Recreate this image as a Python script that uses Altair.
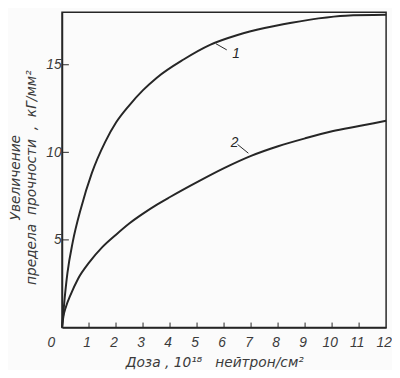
import altair as alt
import pandas as pd

# Curve 1 and curve 2: increase of ultimate strength vs neutron dose
dose1 = [0, 0.1, 0.2, 0.4, 0.7, 1.1, 1.6, 2.0, 2.5, 3.0, 3.5, 4.5, 5.5, 6.5, 7.5, 8.5, 9.5, 10.5, 12]
incr1 = [0, 1.7, 3.1, 4.9, 6.8, 8.8, 10.6, 11.7, 12.7, 13.55, 14.25, 15.3, 16.15, 16.7, 17.1, 17.4, 17.65, 17.8, 17.85]
dose2 = [0, 0.05, 0.15, 0.3, 0.6, 1.0, 1.5, 2.0, 2.5, 3.0, 3.5, 4.0, 5.0, 6.0, 7.0, 8.0, 9.0, 10.0, 11.0, 12]
incr2 = [0, 0.6, 1.2, 1.8, 2.8, 3.7, 4.6, 5.3, 5.95, 6.5, 7.0, 7.45, 8.3, 9.1, 9.8, 10.35, 10.8, 11.2, 11.5, 11.8]

x_ticks = [1, 2, 3, 4, 5, 6, 7, 8, 9, 10, 11]
y_ticks = [5, 10, 15]
x_labels = list(range(0, 13))

curve_names = ["1", "2"]
label_x = [6.3, 6.25]
label_y = [15.6, 10.55]
lead_x = [5.7, 6.5]
lead_y = [16.2, 10.45]
lead_x2 = [6.1, 6.9]
lead_y2 = [15.85, 9.95]

NB = "\u00a0"
x_title = "Доза ,  10¹⁸" + NB * 3 + "нейтрон/см²"
y_title = ["Увеличение" + NB * 13, "предела" + NB + " прочности" + NB + " ," + NB + " кГ/мм²"]

W, H = 330, 321
FONT = "Liberation Sans"
TFONT = "DejaVu Sans"
INK = "#262626"
LABEL_INK = "#3a3a3a"

df = pd.DataFrame(
    {"dose": dose1 + dose2,
     "incr": incr1 + incr2,
     "curve": ["1"] * len(dose1) + ["2"] * len(dose2)}
)
lab = pd.DataFrame({"name": curve_names, "x": label_x, "y": label_y,
                    "lx": lead_x, "ly": lead_y, "lx2": lead_x2, "ly2": lead_y2})
xl = pd.DataFrame({"v": x_labels})

xs = alt.Scale(domain=[0, 12], nice=False, zero=False)
ys = alt.Scale(domain=[0, 18], nice=False, zero=False)

lines = alt.Chart(df).mark_line(interpolate="monotone", color=INK, strokeWidth=2).encode(
    x=alt.X("dose:Q", scale=xs, axis=alt.Axis(
        title=x_title, values=x_labels, labels=False, ticks=False, grid=False,
        titlePadding=29, titleX=155,
    )),
    y=alt.Y("incr:Q", scale=ys, axis=alt.Axis(
        title=y_title, values=y_ticks, format="d", ticks=False, grid=False,
        labelOverlap=False, labelPadding=1, titleX=-47, titleY=168, titleAngle=270,
        titleAlign="center", titleBaseline="middle", titleLineHeight=16,
    )),
    detail="curve:N",
)

xt = alt.Chart(pd.DataFrame({"v": x_ticks})).mark_rule(color=INK, strokeWidth=1).encode(
    x=alt.X("v:Q", scale=xs), y=alt.value(H), y2=alt.value(H - 5)
)
yt = alt.Chart(pd.DataFrame({"v": y_ticks})).mark_rule(color=INK, strokeWidth=1).encode(
    y=alt.Y("v:Q", scale=ys), x=alt.value(0), x2=alt.value(7)
)
xlab_zero = alt.Chart(xl).transform_filter("datum.v == 0").mark_text(
    font=FONT, fontStyle="italic", fontSize=14, color=LABEL_INK, baseline="middle", dx=-11
).encode(x=alt.X("v:Q", scale=xs), y=alt.value(H + 16), text=alt.Text("v:Q", format="d"))
xlab_rest = alt.Chart(xl).transform_filter("datum.v > 0").mark_text(
    font=FONT, fontStyle="italic", fontSize=14, color=LABEL_INK, baseline="middle", dx=-2
).encode(x=alt.X("v:Q", scale=xs), y=alt.value(H + 16), text=alt.Text("v:Q", format="d"))

leaders = alt.Chart(lab).mark_rule(color=INK, strokeWidth=1).encode(
    x=alt.X("lx:Q", scale=xs), y=alt.Y("ly:Q", scale=ys),
    x2="lx2:Q", y2="ly2:Q",
)
texts = alt.Chart(lab).mark_text(font=FONT, fontStyle="italic", fontSize=14, color=INK,
                                 align="left", baseline="middle").encode(
    x=alt.X("x:Q", scale=xs), y=alt.Y("y:Q", scale=ys), text="name:N"
)

chart = alt.layer(lines, xt, yt, xlab_zero, xlab_rest, leaders, texts).properties(
    width=W, height=H,
    autosize=alt.AutoSizeParams(type="none"),
    padding={"left": 55, "top": 1, "right": 6, "bottom": 40},
    background="#fbfbfb",
).configure_view(
    stroke=INK, strokeWidth=1.5
).configure_axis(
    domainColor=INK, domainWidth=1.5,
    labelFont=FONT, labelFontStyle="italic", labelFontSize=14, labelColor=LABEL_INK,
    titleFont=TFONT, titleFontStyle="italic", titleFontWeight="normal", titleFontSize=14,
    titleColor=LABEL_INK,
)

chart.save("out.html", embed_options={"renderer": "svg", "actions": False})
